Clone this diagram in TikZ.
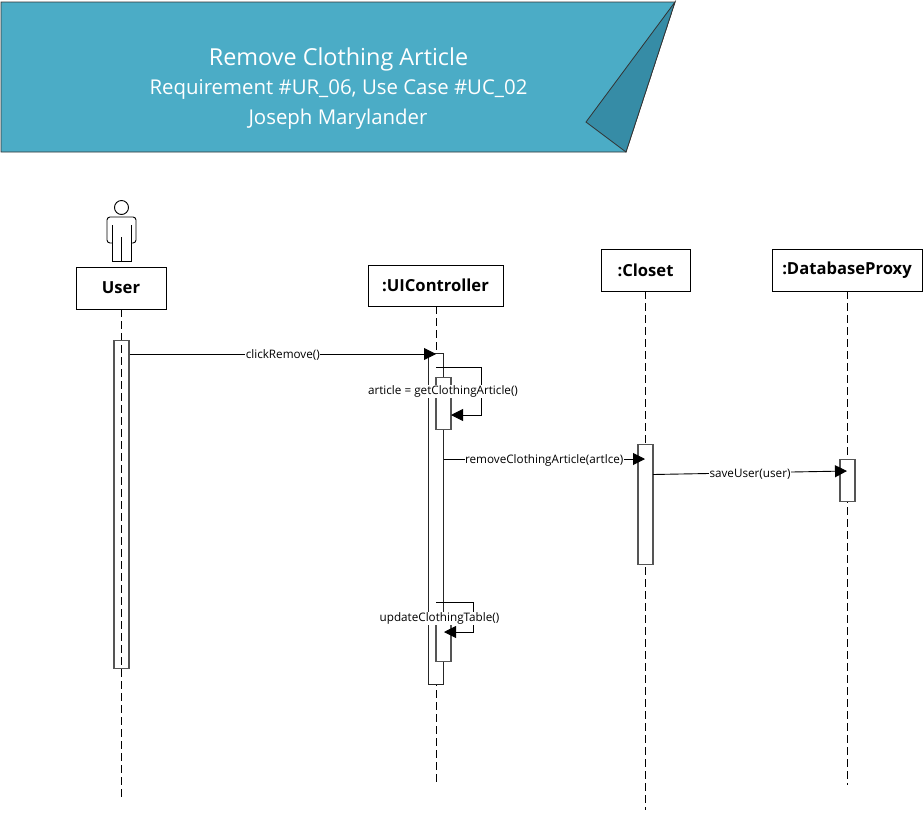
\documentclass[tikz,border=0pt]{standalone}
\usepackage{fontspec}
\setmainfont{Open Sans}
\usetikzlibrary{arrows.meta}
\definecolor{bannerblue}{HTML}{4BACC6}
\definecolor{folddark}{HTML}{368CA6}
\definecolor{barline}{HTML}{555555}
\tikzset{
  titletext/.style={text=white, inner sep=0pt, font=\fontsize{23.4}{26}\selectfont},
  subtext/.style={text=white, inner sep=0pt, font=\fontsize{20.4}{23}\selectfont},
  objbox/.style={draw=black, fill=white, line width=0.9pt, inner sep=0pt, font=\bfseries\fontsize{16.6}{18}\selectfont},
  lifeline/.style={draw=black, line width=0.9pt, dash pattern=on 8pt off 4pt},
  actbar/.style={draw=barline, line width=1.2pt, inner sep=0pt, minimum width=15pt, anchor=north},
  msg/.style={draw=black, line width=0.9pt, -{Triangle[length=12pt,width=12pt]}},
  msglabel/.style={fill=white, inner sep=0.5pt, yshift=-1.2pt, font=\fontsize{11.7}{13}\selectfont}
}

\begin{document}
\begin{tikzpicture}[x=1pt, y=-1pt]
\useasboundingbox (0,0) rectangle (924,812);
\draw[fill=bannerblue, draw=black!80, line width=0.8pt] (1,2) -- (675,2) -- (626,152) -- (1,152) -- cycle;
\draw[fill=folddark, draw=black!80, line width=0.8pt] (675,2) -- (586,122) -- (626,152) -- cycle;
\node[titletext] (title) at (338.5,59) {Remove Clothing Article};
\node[subtext] (req) at (338.5,89) {Requirement \#UR\_06, Use Case \#UC\_02};
\node[subtext] (author) at (338,119) {Joseph Marylander};

% actor
\draw[line width=0.9pt] (121.5,207.5) circle (7);
\draw[line width=0.9pt, rounded corners=3pt] (112,243) -- (107,243) -- (107,217) -- (136,217) -- (136,243) -- (131,243);
\draw[line width=0.9pt] (112,225) -- (112,261) -- (131,261) -- (131,225);
\draw[line width=0.9pt] (121.5,237) -- (121.5,261);

\node[objbox, minimum width=90pt, minimum height=42pt] (user) at (121,288) {User};
\node[objbox, minimum width=135pt, minimum height=41pt] (uictrl) at (435.5,285.5) {:UIController};
\node[objbox, minimum width=89pt, minimum height=42pt] (closet) at (645.5,270) {:Closet};
\node[objbox, minimum width=150pt, minimum height=42pt] (dbproxy) at (847,270) {:DatabaseProxy};

\coordinate (userend) at (121,797);
\coordinate (uiend) at (436,783);
\coordinate (closetend) at (645.5,810);
\coordinate (dbend) at (847,785);
\draw[lifeline] (user.south) -- (userend);
\draw[lifeline] (uictrl.south -| uiend) -- (uiend);
\draw[lifeline] (closet.south) -- (closetend);
\draw[lifeline] (dbproxy.south) -- (dbend);

\node[actbar, minimum height=328pt] (userbar) at (121.5,340) {};
\node[actbar, draw=black!85, line width=1pt, fill=white, minimum height=331pt] (uibar) at (435.5,353) {};
\node[actbar, fill=white, minimum height=52pt] (getbar) at (443.5,377) {};
\node[actbar, fill=white, minimum height=47pt] (updbar) at (443.5,614) {};
\node[actbar, fill=white, minimum height=120pt] (closetbar) at (645.5,444) {};
\node[actbar, fill=white, minimum height=42pt] (dbbar) at (847.5,459) {};

\coordinate (clicktip) at (436,354);
\coordinate (gettop) at (436,367);
\coordinate (getright) at (481,367);
\coordinate (gettip) at (451,415);
\coordinate (removetip) at (645,459);
\coordinate (savestart) at (653,474.5);
\coordinate (savetip) at (847,471);
\coordinate (updtop) at (436,602);
\coordinate (updright) at (473,602);
\coordinate (updtip) at (444,632);

\draw[msg] (userbar.east |- clicktip) -- (clicktip) node[msglabel, pos=0.5] (clicklabel) {clickRemove()};
\draw[msg] (gettop) -- (getright) -- (getright |- gettip) -- (gettip);
\node[msglabel] (getlabel) at (443,390.5) {article = getClothingArticle()};
\draw[msg] (uibar.east |- removetip) -- (removetip) node[msglabel, pos=0.5] (removelabel) {removeClothingArticle(artlce)};
\draw[msg] (savestart) -- (savetip) node[msglabel, pos=0.5] (savelabel) {saveUser(user)};
\draw[msg] (updtop) -- (updright) -- (updright |- updtip) -- (updtip);
\node[msglabel] (updlabel) at (439.5,617.5) {updateClothingTable()};
\end{tikzpicture}
\end{document}
